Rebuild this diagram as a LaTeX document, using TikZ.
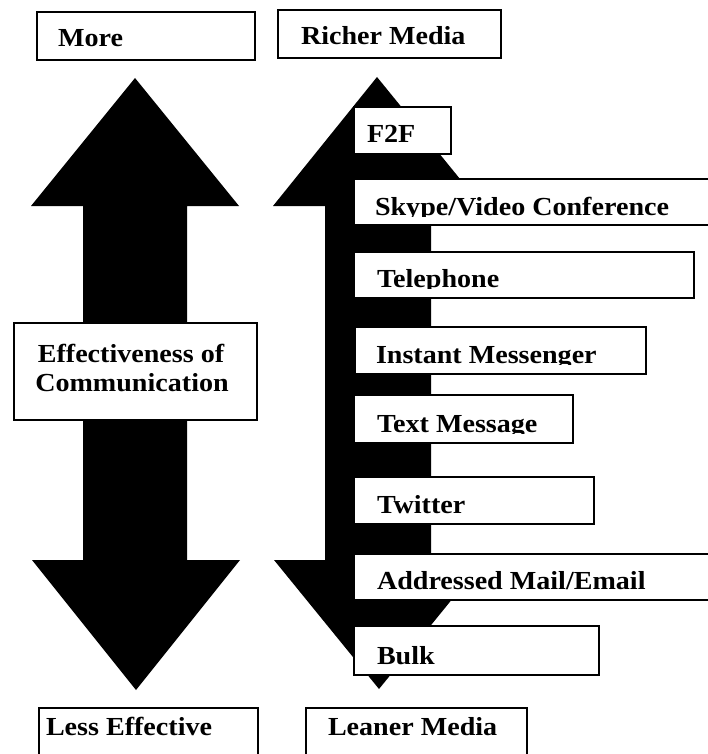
\documentclass[tikz,border=0pt]{standalone}
\usepackage{fontspec}
\setmainfont[FakeStretch=1.08]{Liberation Serif}
\newcommand{\medianode}[8]{%
  \node[medbox, anchor=north west, minimum width={(#4-#2)*1pt}, minimum height={(#5-#3)*1pt}] (#1) at (#2,#3) {};
  \begin{scope}
    \clip (#2,#3) rectangle (#4,#7+1.5);
    \node[lbl, anchor=base west] (#1text) at (#6,#7) {#8};
  \end{scope}}
\begin{document}
\begin{tikzpicture}[x=1pt,y=-1pt,
  medbox/.style={rectangle, draw=black, line width=1.1pt, fill=white, inner sep=0pt, outer sep=0pt},
  lbl/.style={inner sep=0pt, outer sep=0pt, font=\bfseries\fontsize{26}{30}\selectfont},
  bigarrow/.style={fill=black}]
\useasboundingbox (0,0) rectangle (708,754);
% left double arrow
\fill[bigarrow] (135,78) -- (239,206) -- (187,206) -- (187,560) -- (240,560) -- (136,690)
  -- (32,560) -- (83,560) -- (83,206) -- (31,206) -- cycle;
% right double arrow
\fill[bigarrow] (377,77) -- (482,206) -- (431,206) -- (431,560) -- (484,560) -- (379,689)
  -- (274,560) -- (325,560) -- (325,206) -- (273,206) -- cycle;
% top and bottom labels
\medianode{more}{37}{12}{255}{60}{58}{47}{More}
\medianode{richer}{278}{10}{501}{58}{301}{45}{Richer Media}
\medianode{less}{39}{708}{258}{762}{46}{735}{Less Effective}
\medianode{leaner}{306}{708}{527}{762}{328}{735}{Leaner Media}
% effectiveness box
\node[medbox, anchor=north west, minimum width=243pt, minimum height=97pt] (eff) at (14,323) {};
\node[lbl, anchor=base] (efftext1) at (131,362) {Effectiveness of};
\node[lbl, anchor=base] (efftext2) at (132,391) {Communication};
% media boxes
\medianode{ftf}{354}{107}{451}{154}{367}{143}{F2F}
\medianode{skype}{354}{179}{714}{225}{375}{215}{Skype/Video Conference}
\medianode{tel}{354}{252}{694}{298}{377}{287}{Telephone}
\medianode{im}{355}{327}{646}{374}{376}{363}{Instant Messenger}
\medianode{tm}{354}{395}{573}{443}{377}{432}{Text Message}
\medianode{tw}{354}{477}{594}{524}{377}{513}{Twitter}
\medianode{am}{354}{554}{714}{600}{377}{589}{Addressed Mail/Email}
\medianode{bulk}{354}{626}{599}{675}{377}{664}{Bulk}
\end{tikzpicture}
\end{document}
